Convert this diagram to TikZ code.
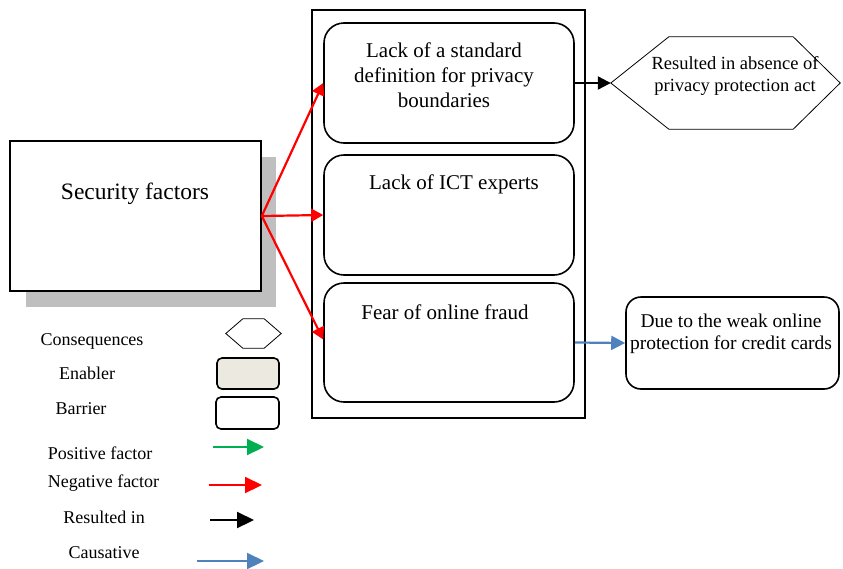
\documentclass[tikz,border=0pt]{standalone}
\usepackage{fontspec}
\setmainfont{Liberation Serif}
\usetikzlibrary{arrows.meta,calc}

\definecolor{shadowgray}{RGB}{191,191,191}
\definecolor{enablerfill}{RGB}{236,234,224}
\definecolor{posgreen}{RGB}{0,176,80}
\definecolor{causeblue}{RGB}{79,129,189}

\begin{document}
\begin{tikzpicture}[x=1pt,y=-1pt,
  plainbox/.style={draw, line width=1.6pt, fill=white, inner sep=0pt},
  barrierbox/.style={draw, line width=1.6pt, rounded corners=20pt, fill=white, inner sep=0pt},
  legendbox/.style={draw, line width=1.6pt, rounded corners=5pt, inner sep=0pt},
  hexline/.style={draw, line width=0.8pt},
  txt/.style={align=center, inner sep=0pt},
  bodyfont/.style={font=\fontsize{21}{25}\selectfont},
  smallfont/.style={font=\fontsize{18.5}{22}\selectfont},
  legfont/.style={font=\fontsize{18}{22}\selectfont},
  negarrow/.style={draw=red, line width=2.2pt, -{Triangle[length=12pt,width=13pt]}},
  resarrow/.style={draw=black, line width=2.2pt, -{Triangle[length=13pt,width=13pt]}},
  causearrow/.style={draw=causeblue, line width=2.2pt, -{Triangle[length=14pt,width=14pt]}},
  legarrow/.style={line width=2.2pt, -{Triangle[length=17pt,width=16pt]}},
]
\useasboundingbox (0,0) rectangle (843,568);

% security factors with its drop shadow
\fill[shadowgray] (26,157) rectangle (276,307);
\node[plainbox, minimum width=251pt, minimum height=150pt] (sec) at (135.5,216) {};
\node[txt, font=\fontsize{23.5}{28}\selectfont] (sectxt) at (135,194) {Security factors};

% container of the three barriers
\node[draw, line width=1.6pt, minimum width=273pt, minimum height=408pt, inner sep=0pt] (frame) at (448.5,214) {};

\node[barrierbox, minimum width=250pt, minimum height=120pt] (b1) at (449,83) {};
\node[barrierbox, minimum width=250pt, minimum height=120pt] (b2) at (449,215) {};
\node[barrierbox, minimum width=250pt, minimum height=119pt] (b3) at (449,342.5) {};

\node[txt, bodyfont] (b1txt) at (444,75) {Lack of a standard\\definition for privacy\\boundaries};
\node[txt, bodyfont] (b2txt) at (454,184) {Lack of ICT experts};
\node[txt, bodyfont] (b3txt) at (445,312) {Fear of online fraud};

% consequence hexagon
\node[minimum width=229pt, minimum height=92pt, inner sep=0pt] (cons) at (725.5,83) {};
\draw[hexline] (cons.west) -- ($(cons.north west)+(58,0)$) -- ($(cons.north east)+(-47,0)$)
  -- (cons.east) -- ($(cons.south east)+(-47,0)$) -- ($(cons.south west)+(58,0)$) -- cycle;
\node[txt, smallfont] (constxt) at (735,76) {Resulted in absence of\\privacy protection act};

% cause box
\node[barrierbox, rounded corners=15pt, minimum width=213pt, minimum height=92pt] (due) at (732.5,343) {};
\node[txt, font=\fontsize{19.5}{22}\selectfont] (duetxt) at (731,334) {Due to the weak online\\protection for credit cards};

% connectors
\draw[negarrow] (sec.east) -- (b1.west);
\draw[negarrow] (sec.east) -- (b2.west);
\draw[negarrow] (sec.east) -- ($(b3.west)+(0,-3)$);
\draw[resarrow] (b1.east) -- (cons.west);
\draw[causearrow] (b3.east) -- (due.west);

% legend
\node[txt, legfont] (lcons) at (92,341) {Consequences};
\node[minimum width=55pt, minimum height=29pt, inner sep=0pt] (lhex) at (253.5,333.5) {};
\draw[hexline] (lhex.west) -- ($(lhex.north west)+(17,0)$) -- ($(lhex.north east)+(-17,0)$)
  -- (lhex.east) -- ($(lhex.south east)+(-17,0)$) -- ($(lhex.south west)+(17,0)$) -- cycle;

\node[txt, legfont] (lena) at (87,373) {Enabler};
\node[legendbox, fill=enablerfill, minimum width=62pt, minimum height=31pt] (lenabox) at (248,373.5) {};

\node[txt, legfont] (lbar) at (81,409) {Barrier};
\node[legendbox, fill=white, minimum width=63pt, minimum height=32pt] (lbarbox) at (247.5,413) {};

\node[txt, legfont] (lpos) at (100,453) {Positive factor};
\coordinate (pos1) at (213,447);
\coordinate (pos2) at (264,447);
\draw[legarrow, draw=posgreen] (pos1) -- (pos2);

\node[txt, legfont] (lneg) at (103.5,483) {Negative factor};
\coordinate (neg1) at (209,485);
\coordinate (neg2) at (262,485);
\draw[legarrow, draw=red] (neg1) -- (neg2);

\node[txt, legfont] (lres) at (104,517) {Resulted in};
\coordinate (res1) at (210,520);
\coordinate (res2) at (254,520);
\draw[legarrow, draw=black] (res1) -- (res2);

\node[txt, legfont] (lcau) at (104,553) {Causative};
\coordinate (cau1) at (197,561);
\coordinate (cau2) at (264,561);
\draw[legarrow, draw=causeblue] (cau1) -- (cau2);
\end{tikzpicture}
\end{document}
